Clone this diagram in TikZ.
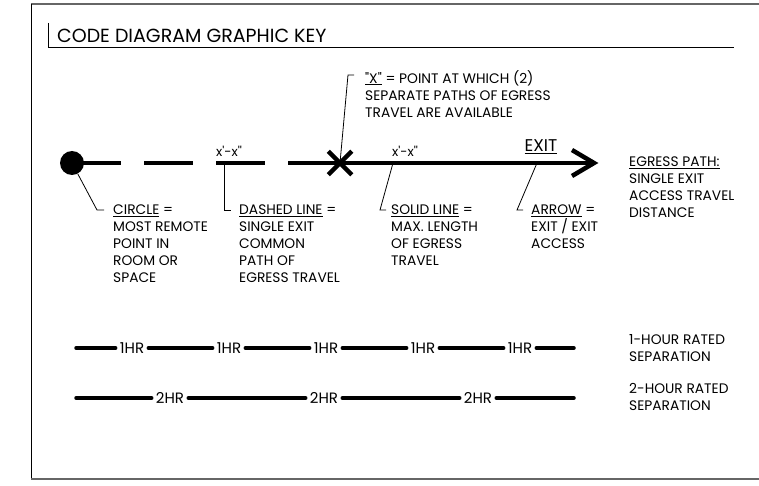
\documentclass[tikz,border=0pt]{standalone}
\usepackage{fontspec}
\setmainfont{Poppins}[Ligatures=TeXOff]
\usetikzlibrary{shapes.misc,positioning,calc}

\begin{document}
\begin{tikzpicture}[
  x=1pt, y=-1pt,
  framegray/.style = {line width=1.6pt, black!60},
  heavy/.style     = {line width=4.5pt, black},
  leader/.style    = {line width=0.8pt, black},
  sepline/.style   = {line width=3.5pt, line cap=round, black},
  keytext/.style   = {anchor=north west, inner sep=0pt, align=left,
                      font=\fontsize{13.8}{17}\selectfont},
  dimtext/.style   = {anchor=base, inner sep=0pt, font=\fontsize{13}{15}\selectfont},
  ratelbl/.style   = {inner sep=0pt, inner xsep=4pt, font=\fontsize{15}{17}\selectfont},
  dotmark/.style   = {circle, fill=black, minimum size=24pt, inner sep=0pt},
  xcross/.style    = {cross out, draw=black, line width=4.5pt, minimum size=19pt, inner sep=0pt}
]
\useasboundingbox (0,0) rectangle (759,486);

% sheet frame
\draw[framegray] (759,4) -- (31,4);
\draw[line width=1pt] (31,4) -- (31,479);
\draw[framegray] (31,479) -- (759,479);

% heading
\node[anchor=north west, inner sep=0pt, font=\fontsize{19}{22}\selectfont] (title) at (57,28.5) {CODE DIAGRAM GRAPHIC KEY};
\draw[leader] (48,23) -- (48,47.5) -- (734,47.5);

% egress path
\node[dotmark] (remote)  at (72,163) {};
\coordinate    (dashend) at (288,163);
\node[xcross]  (xpt)     at (340,163) {};
\coordinate    (exit)    at (594,163);

\draw[heavy, dash pattern=on 49pt off 23pt] (remote.center) -- (dashend);
\draw[heavy] (dashend) -- (exit);
\draw[heavy, line join=miter] ([shift={(-22,-13)}]exit) -- (exit) -- ([shift={(-22,13)}]exit);

\node[dimtext] (dimA) at (229,157) {x'-x''};
\node[dimtext] (dimB) at (405,157) {x'-x''};
\node[anchor=base, inner sep=0pt, font=\fontsize{17}{19}\selectfont] (exitlbl) at (541,152) {\underline{EXIT}};

% key texts
\node[keytext] (xtxt)      at (365,70)  {\underline{"X"} = POINT AT WHICH (2)\\SEPARATE PATHS OF EGRESS\\TRAVEL ARE AVAILABLE};
\node[keytext] (circtxt)   at (113,205) {\underline{CIRCLE} =\\MOST REMOTE\\POINT IN\\ROOM OR\\SPACE};
\node[keytext] (dashtxt)   at (239,205) {\underline{DASHED LINE} =\\SINGLE EXIT\\COMMON\\PATH OF\\EGRESS TRAVEL};
\node[keytext] (solidtxt)  at (391,205) {\underline{SOLID LINE} =\\MAX. LENGTH\\OF EGRESS\\TRAVEL};
\node[keytext] (arrowtxt)  at (531,205) {\underline{ARROW} =\\EXIT / EXIT\\ACCESS};
\node[keytext] (egresstxt) at (629,157) {\underline{EGRESS PATH:}\\SINGLE EXIT\\ACCESS TRAVEL\\DISTANCE};

% leaders
\coordinate (dashpt)  at (224,163);
\coordinate (solidpt) at (393,163);
\coordinate (arrowpt) at (537,163);
\draw[leader] (xpt.center)  -- ([xshift=-17pt,yshift=-5pt]xtxt.north west)     -- ++(6,0);
\draw[leader] (remote.-62)  -- ([xshift=-16pt,yshift=-5pt]circtxt.north west)  -- ++(7,0);
\draw[leader] (dashpt)      -- ([xshift=-15pt,yshift=-5pt]dashtxt.north west)  -- ++(7,0);
\draw[leader] (solidpt)     -- ([xshift=-11pt,yshift=-5pt]solidtxt.north west) -- ++(6,0);
\draw[leader] (arrowpt)     -- ([xshift=-14pt,yshift=-5pt]arrowtxt.north west) -- ++(6,0);

% rated separations
\coordinate (oneW) at (76,348);
\coordinate (oneE) at (574,348);
\foreach \i in {1,...,5}
  \node[ratelbl] (one\i) at ({35+97*\i},348) {1HR};
\draw[sepline] (oneW) -- (one1);
\foreach \i [count=\j from 2] in {1,...,4}
  \draw[sepline] (one\i) -- (one\j);
\draw[sepline] (one5) -- (oneE);

\coordinate (twoW) at (76,398);
\coordinate (twoE) at (574,398);
\foreach \i in {1,...,3}
  \node[ratelbl] (two\i) at ({16+154*\i},398) {2HR};
\draw[sepline] (twoW) -- (two1);
\foreach \i [count=\j from 2] in {1,2}
  \draw[sepline] (two\i) -- (two\j);
\draw[sepline] (two3) -- (twoE);

\node[keytext] (onehr) at (629,334) {1-HOUR RATED\\SEPARATION};
\node[keytext] (twohr) at (629,383) {2-HOUR RATED\\SEPARATION};
\end{tikzpicture}
\end{document}
